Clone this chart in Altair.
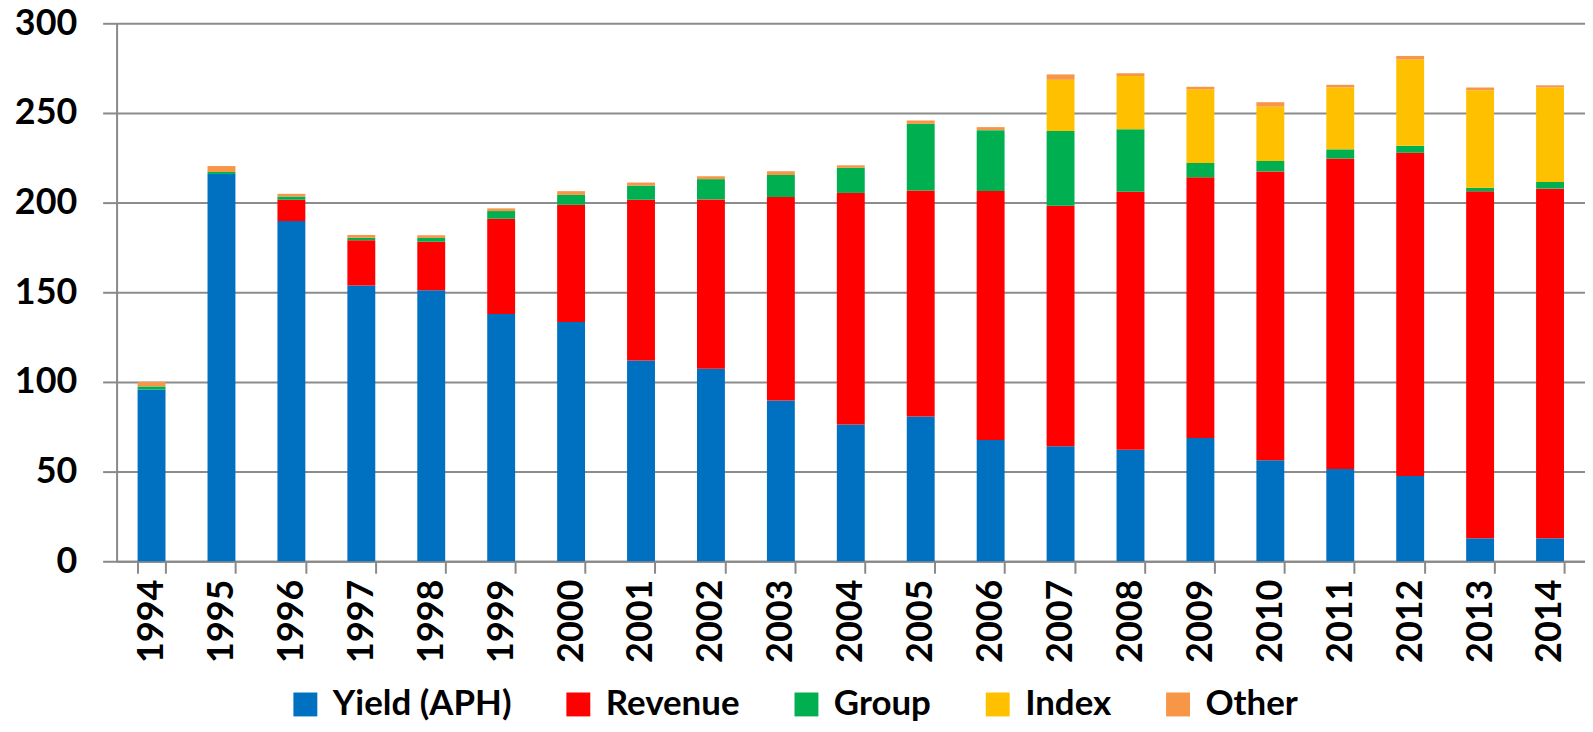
import altair as alt
import pandas as pd

years = [str(y) for y in range(1994, 2015)]
series = ["Yield (APH)", "Revenue", "Group", "Index", "Other"]
colors = ["#0070C0", "#FF0000", "#00B050", "#FFC000", "#F79646"]

yield_aph = [95.8, 216.0, 189.7, 153.8, 151.2, 137.9, 133.4, 111.9, 107.3, 89.7, 76.2,
             80.7, 67.6, 64.1, 62.2, 68.7, 56.3, 51.5, 47.6, 12.8, 12.8]
revenue = [0, 0, 11.9, 25.2, 27.0, 53.1, 65.4, 89.7, 94.5, 113.4, 129.2,
           126.1, 138.9, 134.1, 143.9, 145.4, 161.1, 173.1, 180.2, 193.5, 195.0]
group = [1.7, 1.1, 1.8, 1.4, 2.1, 4.3, 5.5, 7.9, 11.3, 12.3, 14.0,
         37.1, 33.9, 41.8, 34.8, 8.0, 5.8, 5.1, 3.9, 2.0, 3.7]
index = [0, 0, 0, 0, 0, 0, 0, 0, 0, 0, 0,
         0, 0, 28.5, 29.7, 41.1, 30.3, 34.5, 48.1, 54.4, 52.7]
other = [2.5, 3.3, 1.5, 1.5, 1.5, 1.5, 2.1, 1.7, 1.6, 2.1, 1.4,
         1.9, 1.7, 3.0, 1.6, 1.4, 2.5, 1.5, 2.0, 1.5, 1.2]

rows = []
for s_i, (name, vals) in enumerate(zip(series, [yield_aph, revenue, group, index, other])):
    for y, v in zip(years, vals):
        rows.append({"year": y, "series": name, "value": v, "order": s_i})
df = pd.DataFrame(rows)

FONT = "Lato"

chart = alt.Chart(df).mark_bar(size=28).encode(
    x=alt.X("year:N", title=None, sort=years,
            scale=alt.Scale(paddingInner=0.6, paddingOuter=0.3),
            axis=alt.Axis(labelAngle=270, labelAlign="right", labelBaseline="middle",
                          labelFontSize=36, labelFontWeight="bold", labelFont=FONT,
                          labelColor="#000000", labelPadding=6,
                          tickBand="extent", ticks=True, tickSize=12, tickColor="#898989",
                          tickWidth=2, domainColor="#898989", domainWidth=2, grid=False)),
    y=alt.Y("value:Q", title=None, stack="zero",
            scale=alt.Scale(domain=[0, 300], nice=False),
            axis=alt.Axis(values=[0, 50, 100, 150, 200, 250, 300],
                          labelFontSize=36, labelFontWeight="bold", labelFont=FONT,
                          labelColor="#000000", labelPadding=26,
                          tickSize=14, tickColor="#898989", tickWidth=2,
                          domainColor="#898989", domainWidth=2,
                          grid=True, gridColor="#8c8c8c", gridWidth=2)),
    color=alt.Color("series:N", sort=series,
                    scale=alt.Scale(domain=series, range=colors),
                    legend=alt.Legend(title=None, orient="none", direction="horizontal",
                                      legendX=172, legendY=666,
                                      symbolType="square", symbolSize=576,
                                      symbolStrokeWidth=0, symbolOpacity=1,
                                      labelFontSize=35, labelFontWeight="bold",
                                      labelFont=FONT, labelColor="#000000",
                                      labelLimit=0,
                                      labelOffset=10, columnPadding=49)),
    order=alt.Order("order:Q", sort="ascending"),
).properties(
    width=1474, height=540,
    autosize=alt.AutoSizeParams(type="none"),
    padding={"left": 109, "top": 14, "right": 0, "bottom": 162},
).configure_view(stroke=None)

chart.save("out.html", embed_options={"renderer": "svg", "actions": False})
